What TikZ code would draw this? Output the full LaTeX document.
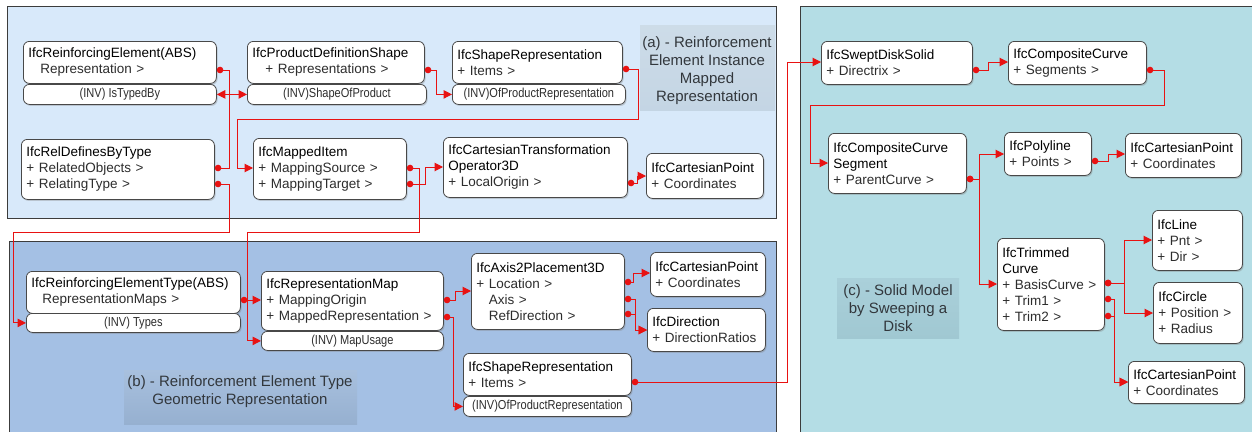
\documentclass[tikz,border=0pt]{standalone}
\usepackage{fontspec}
\setmainfont{Liberation Sans}
\newfontfamily\narrowfont[FakeStretch=0.85]{Liberation Sans}
\usetikzlibrary{arrows.meta,shadows}

\definecolor{panelA}{RGB}{216,233,250}
\definecolor{panelB}{RGB}{164,192,228}
\definecolor{panelC}{RGB}{180,221,229}
\definecolor{capAtop}{RGB}{205,220,232}
\definecolor{capAbot}{RGB}{196,213,228}
\definecolor{capBtop}{RGB}{168,192,222}
\definecolor{capBbot}{RGB}{150,176,208}
\definecolor{capCtop}{RGB}{170,208,218}
\definecolor{capCbot}{RGB}{160,200,210}
\definecolor{framecol}{RGB}{60,60,60}
\definecolor{boxline}{RGB}{72,72,72}
\definecolor{conred}{RGB}{232,18,18}
\definecolor{attr}{RGB}{45,45,45}
\definecolor{captext}{RGB}{50,55,60}

% entity box: name, x, y (top-left), width, height, text
\newcommand{\entity}[6]{%
  \pgfmathsetmacro{\entw}{#4-10}%
  \node[entbox, minimum width=#4pt, minimum height=#5pt, text width=\entw pt] (#1) at (#2,#3) {#6};}
% inverse-attribute strip under an entity box
\newcommand{\invrow}[6]{%
  \node[invbox, minimum width=#4pt, minimum height=#5pt] (#1) at (#2,#3) {#6};}
\newcommand{\at}[1]{\textcolor{attr}{#1}}

\begin{document}
\begin{tikzpicture}[x=1pt,y=-1pt,
  entbox/.style={draw=boxline, line width=0.8pt, fill=white, rounded corners=6pt,
    anchor=north west, inner xsep=5pt, inner ysep=0pt, align=left,
    font=\fontsize{13.5}{16}\selectfont,
    drop shadow={shadow xshift=1.2pt, shadow yshift=-1.5pt, opacity=0.35}},
  invbox/.style={draw=boxline, line width=0.8pt, fill=white, rounded corners=6pt,
    anchor=north west, inner sep=0pt, align=center, text=attr,
    font=\narrowfont\fontsize{13}{14}\selectfont,
    drop shadow={shadow xshift=1.2pt, shadow yshift=-1.5pt, opacity=0.35}},
  conn/.style={draw=conred, line width=1pt,
    {Circle[length=6.5pt]}-{Triangle[length=8.5pt,width=8.5pt]}},
  captionbox/.style={anchor=north west, inner sep=0pt},
  captiontext/.style={align=center, text=captext, font=\fontsize{15}{18}\selectfont}
]
\useasboundingbox (0,0) rectangle (1252,431);
\fill[white] (0,0) rectangle (1252,431);

% ---------- panels ----------
\draw[framecol, line width=0.8pt, fill=panelA] (7,6) rectangle (776,218);
\draw[framecol, line width=0.8pt, fill=panelB] (9,241) rectangle (776,445);
\draw[framecol, line width=0.8pt, fill=panelC] (800,6) rectangle (1262,445);

% ---------- panel captions ----------
\node[captionbox, minimum width=135pt, minimum height=85pt,
  top color=capAtop, bottom color=capAbot] (capA) at (640,25) {};
\node[captiontext] (capAtext) at (707,71) {(a) - Reinforcement\\Element Instance\\Mapped\\Representation};

\node[captionbox, minimum width=233pt, minimum height=54pt,
  top color=capBtop, bottom color=capBbot] (capB) at (124,370) {};
\node[captiontext] (capBtext) at (240,392) {(b) - Reinforcement Element Type\\Geometric Representation};

\node[captionbox, minimum width=122pt, minimum height=60pt,
  top color=capCtop, bottom color=capCbot] (capC) at (837,278) {};
\node[captiontext] (capCtext) at (898,308) {(c) - Solid Model\\by Sweeping a\\Disk};

% ---------- panel (a) ----------
\entity{reinf}{23}{41}{193}{42}{IfcReinforcingElement(ABS)\\\hspace*{12pt}\at{Representation >}}
\invrow{reinfinv}{23}{84}{193}{20}{(INV) IsTypedBy}
\entity{pds}{247}{41}{177}{42}{IfcProductDefinitionShape\\\hspace*{13pt}\at{+ Representations >}}
\invrow{pdsinv}{247}{84}{179}{20}{(INV)ShapeOfProduct}
\entity{shrA}{452}{41}{170}{42}{IfcShapeRepresentation\\\at{+ Items >}}
\invrow{shrAinv}{452}{84}{173}{20}{(INV)OfProductRepresentation}
\entity{rel}{21}{139}{193}{60}{IfcRelDefinesByType\\\at{+ RelatedObjects >}\\\at{+ RelatingType >}}
\entity{mapped}{253}{138}{153}{61}{IfcMappedItem\\\at{+ MappingSource >}\\\at{+ MappingTarget >}}
\entity{cto}{443}{137}{184}{60}{IfcCartesianTransformation\\Operator3D\\\at{+ LocalOrigin >}}
\entity{cpA}{646}{153}{117}{45}{IfcCartesianPoint\\\at{+ Coordinates}}

% ---------- panel (b) ----------
\entity{reltype}{26}{271}{214}{42}{IfcReinforcingElementType(ABS)\\\hspace*{11pt}\at{RepresentationMaps >}}
\invrow{reltypeinv}{26}{313}{214}{19}{(INV) Types}
\entity{repmap}{261}{271}{182}{59}{IfcRepresentationMap\\\at{+ MappingOrigin}\\\at{+ MappedRepresentation >}}
\invrow{repmapinv}{261}{331}{182}{19}{(INV) MapUsage}
\entity{axis}{471}{253}{153}{76}{IfcAxis2Placement3D\\\at{+ Location >}\\\at{\phantom{+ }Axis >}\\\at{\phantom{+ }RefDirection >}}
\entity{cpB}{650}{252}{115}{44}{IfcCartesianPoint\\\at{+ Coordinates}}
\entity{dir}{647}{308}{118}{43}{IfcDirection\\\at{+ DirectionRatios}}
\entity{shrB}{463}{353}{168}{42}{IfcShapeRepresentation\\\at{+ Items >}}
\invrow{shrBinv}{463}{396}{168}{20}{(INV)OfProductRepresentation}

% ---------- panel (c) ----------
\entity{swept}{821}{41}{151}{43}{IfcSweptDiskSolid\\\at{+ Directrix >}}
\entity{cc}{1008}{41}{138}{43}{IfcCompositeCurve\\\at{+ Segments >}}
\entity{ccs}{828}{133}{138}{60}{IfcCompositeCurve\\Segment\\\at{+ ParentCurve >}}
\entity{poly}{1004}{132}{87}{43}{IfcPolyline\\\at{+ Points >}}
\entity{cpC1}{1125}{133}{116}{44}{IfcCartesianPoint\\\at{+ Coordinates}}
\entity{line}{1152}{210}{90}{60}{IfcLine\\\at{+ Pnt >}\\\at{+ Dir >}}
\entity{trimmed}{997}{238}{107}{92}{IfcTrimmed\\Curve\\\at{+ BasisCurve >}\\\at{+ Trim1 >}\\\at{+ Trim2 >}}
\entity{circle}{1153}{282}{89}{61}{IfcCircle\\\at{+ Position >}\\\at{+ Radius}}
\entity{cpC2}{1128}{361}{116}{42}{IfcCartesianPoint\\\at{+ Coordinates}}

% ---------- references ----------
\draw[conn] (reinf.east |- 0,70) -- (229,70) |- (pdsinv.west);
\draw[conn] (rel.east |- 0,168) -- (229,168) |- (reinfinv.east);
\draw[conn] (rel.east |- 0,184) -- (229,184) -- (229,232) -- (13,232) |- (reltypeinv.west);
\draw[conn] (pds.east |- 0,70) -- (436,70) |- (shrAinv.west);
\draw[conn] (shrA.east |- 0,69) -- (638,69) -- (638,119) -- (237,119) |- (mapped.west |- 0,168);
\draw[conn] (mapped.east |- 0,168) -- (419,168) -- (419,232) -- (247,232) |- (repmapinv.west);
\draw[conn] (mapped.east |- 0,184) -- (425,184) |- (cto.west |- 0,167);
\draw[conn] (cto.east |- 0,183) -- (637,183) |- (cpA.west |- 0,176);
\draw[conn] (reltype.east |- 0,300) -- (repmap.west |- 0,300);
\draw[conn] (repmap.east |- 0,300) -- (455,300) |- (axis.west |- 0,291);
\draw[conn] (repmap.east |- 0,317) -- (453,317) |- (shrBinv.west);
\draw[conn] (axis.east |- 0,282) -- (633,282) |- (cpB.west |- 0,273);
\draw[conn] (axis.east |- 0,299) -- (635,299) |- (dir.west |- 0,330);
\draw[conn] (axis.east |- 0,314) -- (635,314) |- (dir.west |- 0,330);
\draw[conn] (shrB.east |- 0,382) -- (787,382) |- (swept.west |- 0,62);
\draw[conn] (swept.east |- 0,70) -- (988,70) |- (cc.west |- 0,62);
\draw[conn] (cc.east |- 0,70) -- (1164,70) -- (1164,105) -- (810,105) |- (ccs.west |- 0,163);
\draw[conn] (ccs.east |- 0,179) -- (979,179) |- (poly.west |- 0,154);
\draw[conn] (ccs.east |- 0,179) -- (979,179) |- (trimmed.west |- 0,284);
\draw[conn] (poly.east |- 0,161) -- (1108,161) |- (cpC1.west |- 0,154);
\draw[conn] (trimmed.east |- 0,283) -- (1124,283) |- (line.west |- 0,240);
\draw[conn] (trimmed.east |- 0,283) -- (1124,283) |- (circle.west |- 0,313);
\draw[conn] (trimmed.east |- 0,299) -- (1114,299) |- (cpC2.west |- 0,382);
\draw[conn] (trimmed.east |- 0,316) -- (1114,316) |- (cpC2.west |- 0,382);
\end{tikzpicture}
\end{document}
